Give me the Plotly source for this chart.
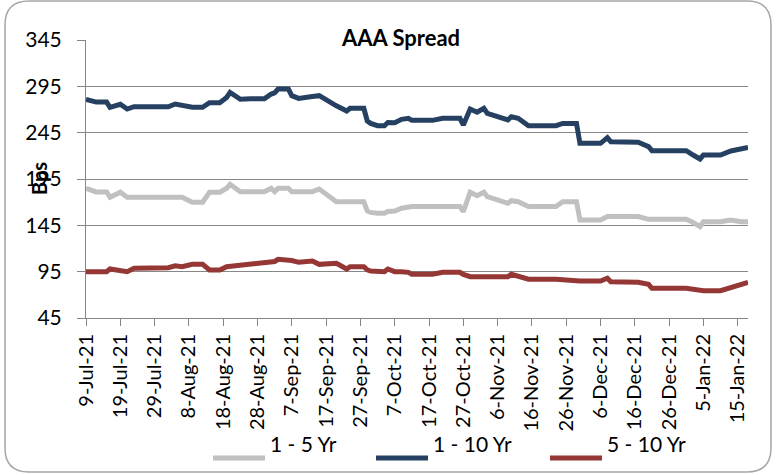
import plotly.graph_objects as go

# Values (bps)
dates = [
    "2021-07-09", "2021-07-12", "2021-07-15", "2021-07-16", "2021-07-19", "2021-07-21",
    "2021-07-23", "2021-07-28", "2021-08-02", "2021-08-04", "2021-08-06", "2021-08-09",
    "2021-08-12", "2021-08-14", "2021-08-17", "2021-08-19", "2021-08-20", "2021-08-23",
    "2021-08-26", "2021-08-30", "2021-09-01", "2021-09-02", "2021-09-03", "2021-09-06",
    "2021-09-07", "2021-09-09", "2021-09-13", "2021-09-15", "2021-09-20", "2021-09-23",
    "2021-09-24", "2021-09-28", "2021-09-29", "2021-09-30", "2021-10-02", "2021-10-04",
    "2021-10-05", "2021-10-07", "2021-10-09", "2021-10-11", "2021-10-12", "2021-10-18",
    "2021-10-21", "2021-10-26", "2021-10-27", "2021-10-29", "2021-10-31", "2021-11-02",
    "2021-11-03", "2021-11-09", "2021-11-10", "2021-11-12", "2021-11-15", "2021-11-23",
    "2021-11-25", "2021-11-29", "2021-11-30", "2021-12-06", "2021-12-08", "2021-12-09",
    "2021-12-17", "2021-12-20", "2021-12-21", "2021-12-31", "2022-01-02", "2022-01-04",
    "2022-01-05", "2022-01-10", "2022-01-13", "2022-01-15", "2022-01-16", "2022-01-18",
]

yr_1_5 = [
    185, 181, 181, 175.3, 180.7, 175.3,
    175.3, 175.3, 175.3, 175.3, 175.3, 169.9,
    169.9, 180.7, 180.7, 185, 189.3, 181.3,
    181.3, 181.3, 185, 181.3, 185, 185,
    181.3, 181.3, 181.3, 184.2, 170.5, 170.5,
    170.5, 170.5, 160.5, 159, 158, 158,
    160, 160.5, 163.4, 165.2, 165.2, 165.2,
    165.2, 165.2, 159.8, 180.7, 177, 180.7,
    175.9, 168.8, 171.6, 170.5, 165.2, 165.2,
    170.5, 170.5, 150.8, 150.8, 154.4, 154.4,
    154.4, 151.5, 151.5, 151.5, 148.2, 143.6,
    149, 149, 150.8, 149.5, 149, 149,
]

yr_1_10 = [
    281, 278, 278, 272.4, 275.6, 270.5,
    273, 273, 273, 275.9, 275, 272.4,
    272.4, 277.3, 277.3, 283, 288.5, 281,
    281.5, 281.5, 286.7, 288, 292.1, 292.1,
    284.9, 282, 284, 284.9, 274, 268.4,
    271.3, 271.3, 257.6, 255, 252.5, 252.5,
    256, 255.8, 259.4, 260.5, 258.3, 258.3,
    260.5, 260.5, 253.3, 270.5, 267, 271.3,
    265.9, 258.7, 262.2, 260.5, 252.5, 252.5,
    255, 255, 233.5, 233.5, 239.6, 235.3,
    234.6, 229.9, 225.6, 225.6, 220.9, 216.6,
    220.9, 220.9, 225.2, 226.3, 228, 229,
]

yr_5_10 = [
    95, 95, 95, 97.9, 95.7, 95,
    98.6, 99, 99.3, 101.4, 100.4, 102.9,
    102.9, 96.8, 96.8, 100.4, 100.8, 101.4,
    102, 104, 105, 106, 108.3, 108.3,
    107, 105.1, 106.5, 102.9, 104, 97.9,
    100.4, 100.4, 97, 95.7, 95, 95,
    97.9, 95, 95, 94.3, 92.2, 92.2,
    94.3, 94.3, 92, 89.6, 89.6, 89.6,
    89.6, 89.6, 92.2, 89.6, 86.9, 86.9,
    86, 84.9, 84.9, 84.9, 87.9, 84.2,
    83.5, 81.4, 77, 77, 75.5, 74.5,
    74.5, 74.5, 77.6, 80, 81.4, 83.5,
]

names = ["1 - 5 Yr", "1 - 10 Yr", "5 - 10 Yr"]
colors = ["#C0C0C0", "#254061", "#953735"]

W, H = 776, 475
L, R, T, B = 86, 748, 40, 318
FONT = "Lato"


def px(x):
    return (x - L) / (R - L)


def py(y):
    return (B - y) / (B - T)


fig = go.Figure()
for name, vals, col in zip(names, [yr_1_5, yr_1_10, yr_5_10], colors):
    fig.add_trace(go.Scatter(x=dates, y=vals, name=name, mode="lines",
                             line=dict(color=col, width=5), showlegend=False))

fig.update_xaxes(
    type="date", range=["2021-07-09", "2022-01-18"],
    tick0="2021-07-09", dtick=10 * 86400000, tickformat="%-d-%b-%y",
    tickangle=-90, ticks="outside", ticklen=7, tickcolor="#878787",
    showline=True, linecolor="#878787", linewidth=1, showgrid=False, zeroline=False,
    tickfont=dict(family=FONT, size=20, color="black"),
)
fig.update_yaxes(
    range=[45, 345], tick0=45, dtick=50,
    ticks="outside", ticklen=8, tickcolor="#878787", ticklabelstandoff=11,
    showline=True, linecolor="#878787", linewidth=1,
    showgrid=True, gridcolor="#878787", gridwidth=1, zeroline=False,
    tickfont=dict(family=FONT, size=21, color="black"),
)

# rounded outer border
x0, x1, y0, y1, r = 5, 771, 1, 472, 24
path = (f"M {px(x0 + r)},{py(y0)} L {px(x1 - r)},{py(y0)} "
        f"Q {px(x1)},{py(y0)} {px(x1)},{py(y0 + r)} L {px(x1)},{py(y1 - r)} "
        f"Q {px(x1)},{py(y1)} {px(x1 - r)},{py(y1)} L {px(x0 + r)},{py(y1)} "
        f"Q {px(x0)},{py(y1)} {px(x0)},{py(y1 - r)} L {px(x0)},{py(y0 + r)} "
        f"Q {px(x0)},{py(y0)} {px(x0 + r)},{py(y0)} Z")
fig.add_shape(type="path", path=path, xref="paper", yref="paper",
              line=dict(color="#A6A6A6", width=1.5), layer="below")

# title and axis label
fig.add_annotation(x=px(400), y=py(22), xref="paper", yref="paper", showarrow=False,
                   text="<b>AAA Spread</b>", font=dict(family=FONT, size=22, color="black"))
fig.add_annotation(x=px(25), y=py(179), xref="paper", yref="paper", showarrow=False,
                   text="<b>Bps</b>", textangle=-90, font=dict(family=FONT, size=20, color="black"))

# legend drawn by hand so the line samples match the original length
leg_x = [213, 376, 550]
leg_y = 458
for name, col, lx in zip(names, colors, leg_x):
    fig.add_shape(type="line", xref="paper", yref="paper",
                  x0=px(lx), x1=px(lx + 52), y0=py(leg_y), y1=py(leg_y),
                  line=dict(color=col, width=5))
    fig.add_annotation(x=px(lx + 55), y=py(leg_y), xref="paper", yref="paper",
                       showarrow=False, xanchor="left", text=name,
                       font=dict(family=FONT, size=21, color="black"))

fig.update_layout(
    width=W, height=H,
    margin=dict(l=L, r=W - R, t=T, b=H - B),
    paper_bgcolor="white", plot_bgcolor="white",
    font=dict(family=FONT, color="black"),
)

# drop the default body margin so the figure sits at the page origin
fig.write_html("out.html", config={"displayModeBar": False},
               post_script="document.body.style.margin='0px';")
